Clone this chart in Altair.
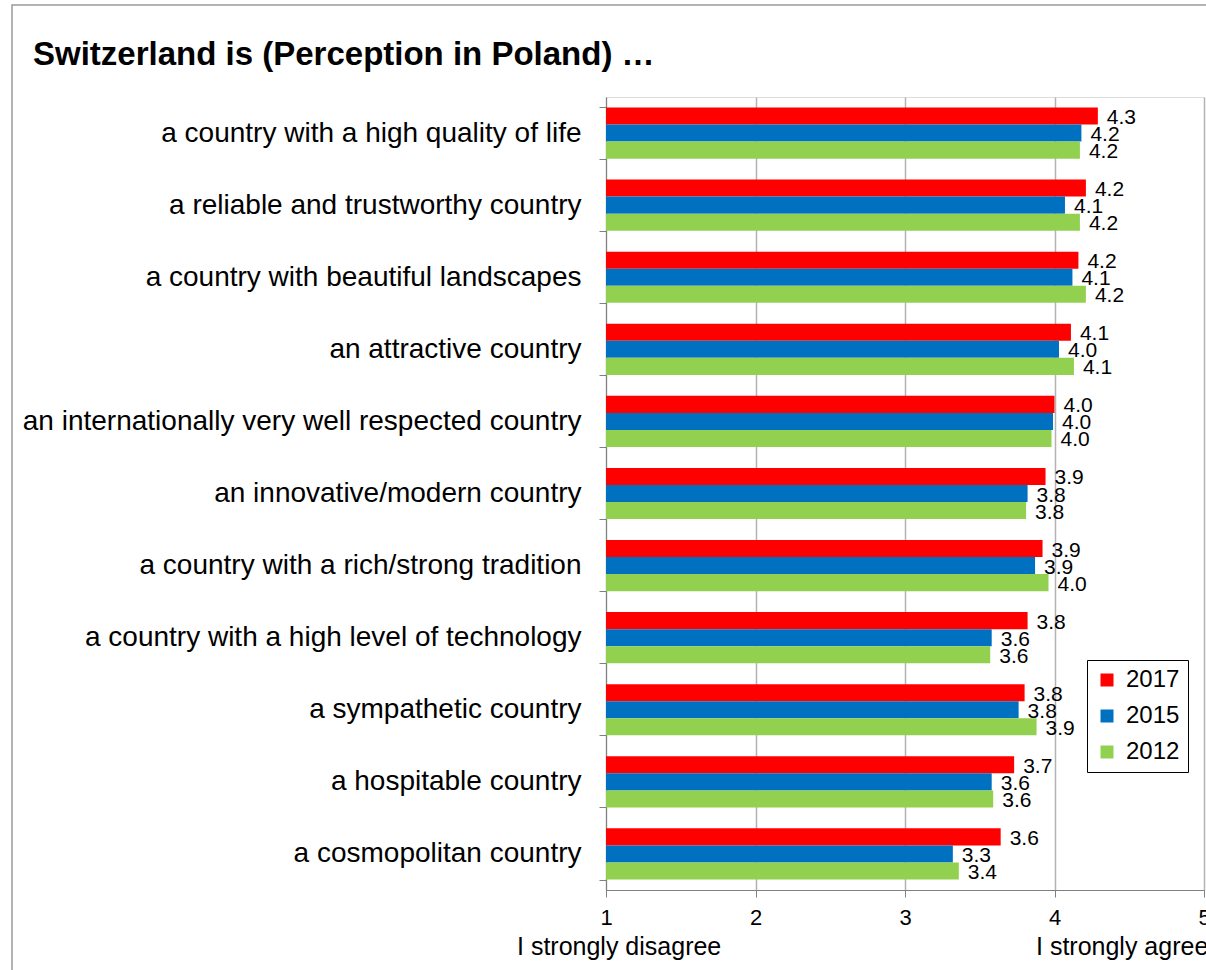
import altair as alt
import pandas as pd

title_text = "Switzerland is (Perception in Poland) …"
categories = [
    "a country with a high quality of life",
    "a reliable and trustworthy country",
    "a country with beautiful landscapes",
    "an attractive country",
    "an internationally very well respected country",
    "an innovative/modern country",
    "a country with a rich/strong tradition",
    "a country with a high level of technology",
    "a sympathetic country",
    "a hospitable country",
    "a cosmopolitan country",
]
years = ["2017", "2015", "2012"]
colors = ["#FF0000", "#0070C0", "#92D050"]
v2017 = [4.29, 4.21, 4.16, 4.11, 4.00, 3.94, 3.92, 3.82, 3.80, 3.73, 3.64]
v2015 = [4.18, 4.07, 4.12, 4.03, 3.99, 3.82, 3.87, 3.58, 3.76, 3.58, 3.32]
v2012 = [4.17, 4.17, 4.21, 4.13, 3.98, 3.81, 3.96, 3.57, 3.88, 3.59, 3.36]
x_ticks = [1, 2, 3, 4, 5]
end_labels = ["I strongly disagree", "I strongly agree"]
end_positions = [1, 5]

rows = []
for yr, vals in zip(years, [v2017, v2015, v2012]):
    for c, v in zip(categories, vals):
        rows.append({"category": c, "year": yr, "value": v, "label": f"{v:.1f}"})
df = pd.DataFrame(rows)

FONT = "Liberation Sans"
W, H = 598, 793

y_enc = alt.Y("category:N", sort=categories,
              scale=alt.Scale(paddingInner=0.29, paddingOuter=0.145),
              axis=alt.Axis(title=None, labelFontSize=28, labelFont=FONT, labelColor="black",
                            tickBand="extent", tickSize=7, tickColor="#808080",
                            domainColor="#808080", labelPadding=18, labelLimit=0, grid=False))
x_enc = alt.X("value:Q", scale=alt.Scale(domain=[1, 5], nice=False, zero=False),
              axis=alt.Axis(title=None, values=x_ticks, grid=True, gridColor="#b3b3b3",
                            gridWidth=1.5, tickSize=7, tickColor="#808080", domainColor="#808080",
                            labelFontSize=22, labelFont=FONT, labelColor="black",
                            labelPadding=10, labelFlush=False, format="d"))
yoff = alt.YOffset("year:N", sort=years, scale=alt.Scale(paddingInner=0, paddingOuter=0))

base = alt.Chart(df)
bars = base.mark_bar().encode(
    y=y_enc, x=x_enc, x2=alt.datum(1), yOffset=yoff,
    color=alt.Color("year:N", sort=years,
                    scale=alt.Scale(domain=years, range=colors),
                    legend=alt.Legend(title=None, orient="none", legendX=481, legendY=563,
                                      padding=8, strokeColor="black", fillColor="white",
                                      labelFontSize=24, labelFont=FONT, labelColor="black",
                                      symbolType="square", symbolSize=169, rowPadding=12,
                                      labelOffset=7, symbolStrokeWidth=0)),
)
labels = base.mark_text(align="left", baseline="middle", dx=9, dy=2, fontSize=21,
                        font=FONT, color="black").encode(
    y=alt.Y("category:N", sort=categories), x=alt.X("value:Q"), yOffset=yoff, text="label:N")

title = alt.Chart(pd.DataFrame({"t": [title_text]})).mark_text(
    align="left", baseline="middle", fontSize=33, fontWeight="bold", font=FONT, color="black"
).encode(x=alt.value(33 - 606), y=alt.value(55 - 97), text="t:N")

end_df = pd.DataFrame({"t": end_labels, "pos": end_positions})
end_left = alt.Chart(end_df.iloc[[0]]).mark_text(
    align="left", baseline="alphabetic", fontSize=25, font=FONT, color="black", dx=-89
).encode(x=alt.X("pos:Q"), y=alt.value(955 - 97), text="t:N")
end_right = alt.Chart(end_df.iloc[[1]]).mark_text(
    align="left", baseline="alphabetic", fontSize=25, font=FONT, color="black", dx=-168
).encode(x=alt.X("pos:Q"), y=alt.value(955 - 97), text="t:N")

border = alt.Chart(pd.DataFrame({"a": [0]})).mark_rect(
    fillOpacity=0, stroke="#9a9a9a", strokeWidth=1.5
).encode(x=alt.value(12 - 606), x2=alt.value(640), y=alt.value(5 - 97), y2=alt.value(900))

chart = alt.layer(border, bars, labels, title, end_left, end_right).properties(
    width=W, height=H, autosize=alt.AutoSizeParams(type="none"),
    padding={"left": 606, "top": 97, "right": 2, "bottom": 80},
).configure_view(stroke="#555555", strokeWidth=1.5).configure(background="white")

chart.save("out.html", embed_options={"renderer": "svg", "actions": False})
